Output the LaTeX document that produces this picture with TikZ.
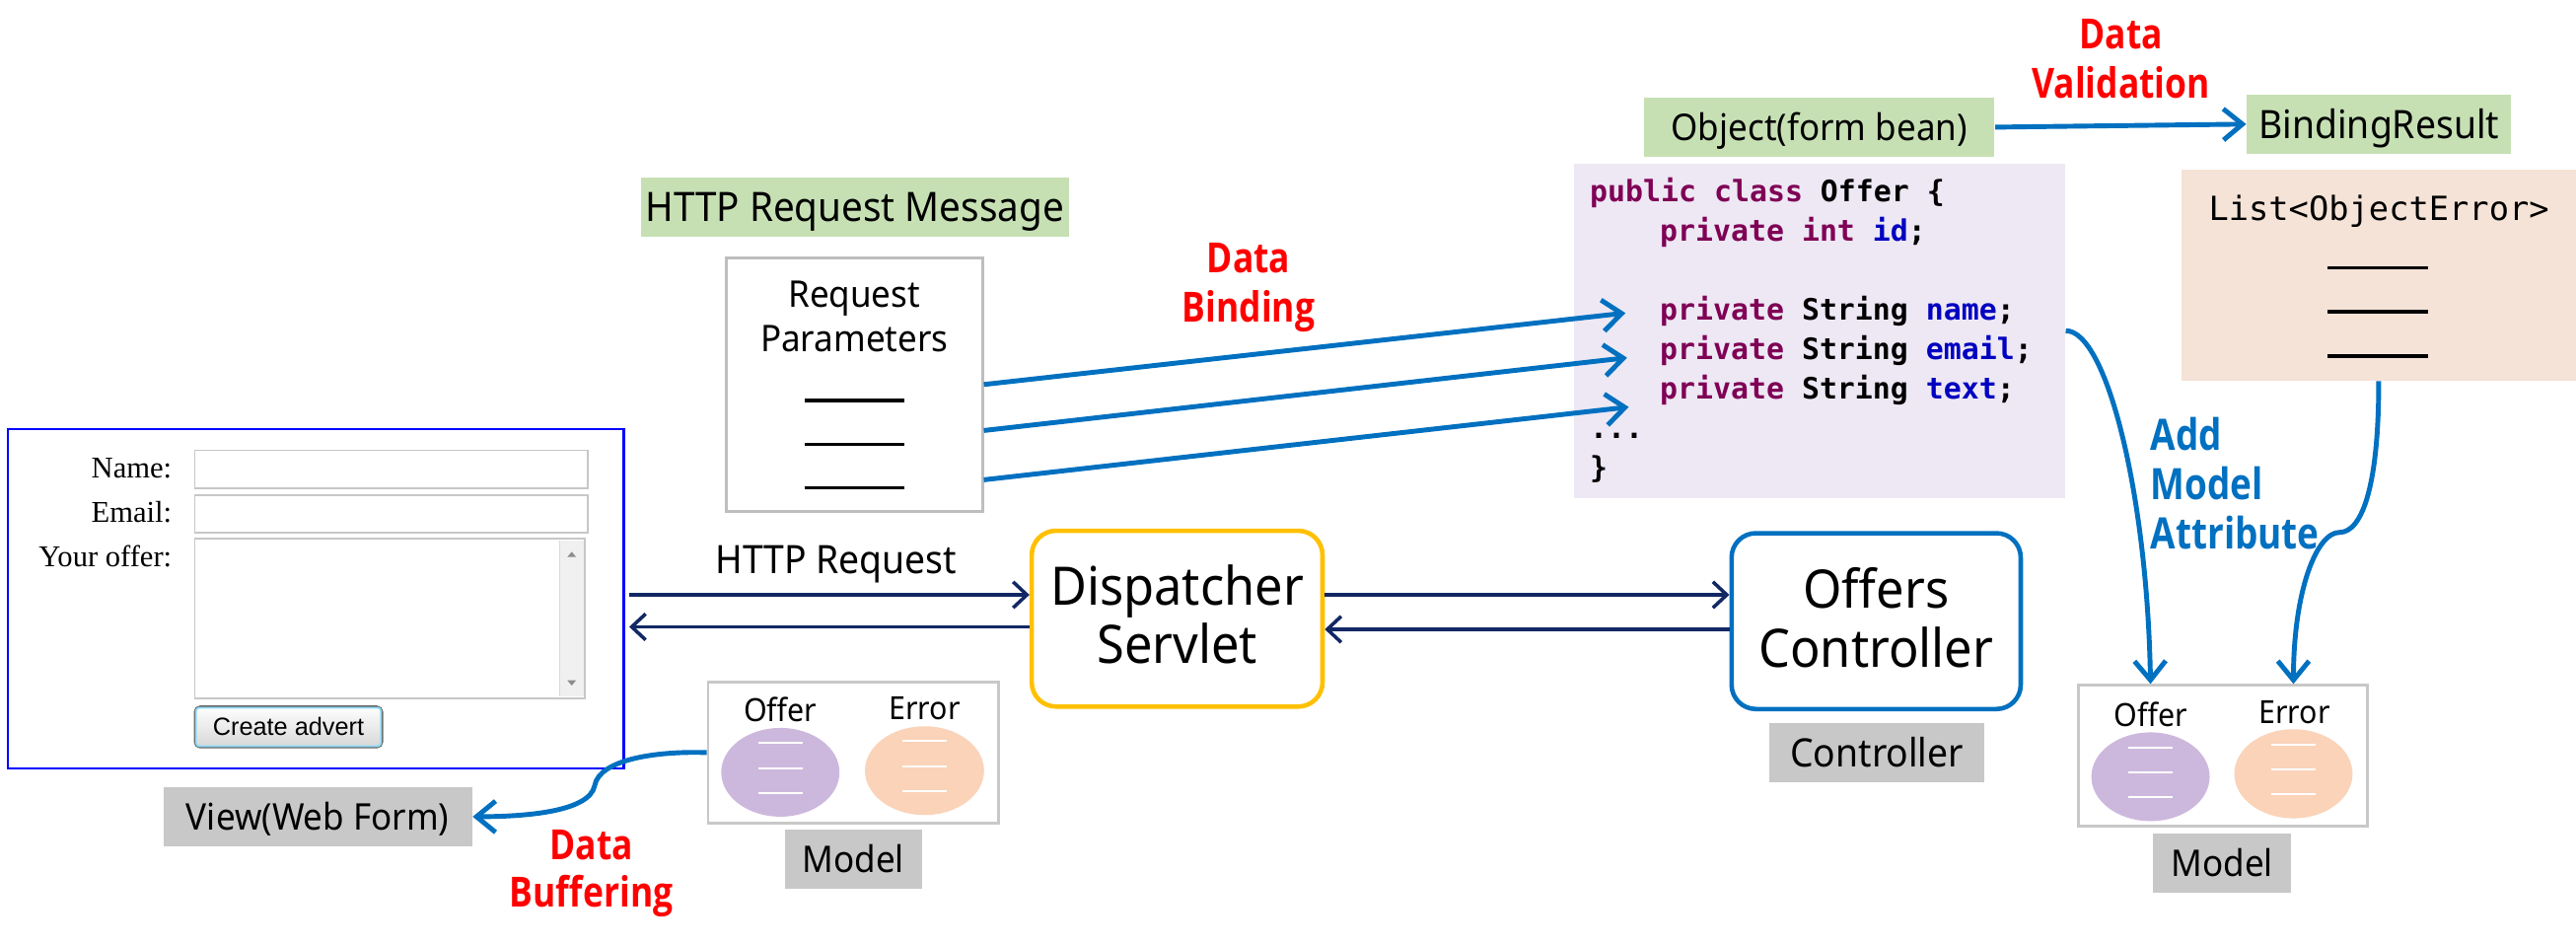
\documentclass[tikz,border=0pt]{standalone}
\usepackage{fontspec}
\setmainfont[FakeStretch=0.94]{Noto Sans}
\newfontfamily\boldsans[FakeStretch=0.84]{Open Sans}
\newfontfamily\codefont{DejaVu Sans Mono}
\newfontfamily\formfont{Liberation Serif}
\newfontfamily\btnfont{Liberation Sans}
\usetikzlibrary{arrows.meta,shapes.geometric,calc}
\newdimen\pu
\pu=0.016658cm
\newcommand\fsz[1]{\fontsize{#1}{#1}\selectfont}
\definecolor{lblgreen}{RGB}{198,224,180}
\definecolor{lblgray}{RGB}{200,200,200}
\definecolor{codebg}{RGB}{237,232,244}
\definecolor{peach}{RGB}{245,227,215}
\definecolor{offerfill}{RGB}{205,184,221}
\definecolor{errfill}{RGB}{250,211,185}
\definecolor{arrblue}{RGB}{0,112,192}
\definecolor{navy}{RGB}{18,40,100}
\definecolor{gold}{RGB}{255,192,0}
\definecolor{kwc}{RGB}{127,0,85}
\definecolor{idc}{RGB}{0,0,192}
\definecolor{boxgray}{RGB}{190,190,190}
\definecolor{formblue}{RGB}{0,0,255}
\definecolor{redlbl}{RGB}{255,0,0}
\newcommand\kwd[1]{\textcolor{kwc}{#1}}
\newcommand\idn[1]{\textcolor{idc}{#1}}
\tikzset{
  lbl/.style={inner sep=0pt, minimum height=36*\pu, text depth=0pt},
  txt/.style={inner sep=0pt, anchor=base},
  redtxt/.style={inner sep=0pt, anchor=base, text=redlbl, font=\boldsans\bfseries\fsz{12}},
  bluetxt/.style={inner sep=0pt, anchor=base west, text=arrblue, font=\boldsans\bfseries\fsz{12.5}},
  codeln/.style={inner sep=0pt, anchor=base west, font=\codefont\bfseries\fsz{8.5}},
  formtxt/.style={inner sep=0pt, anchor=base east, font=\formfont\fsz{8.7}},
  field/.style={draw=black!22, fill=white, line width=0.5pt, inner sep=0pt},
  navyarr/.style={draw=navy, line width=1pt, -{Straight Barb[length=4pt,width=7.5pt]}},
  bluearr/.style={draw=arrblue, line width=1.4pt, -{Straight Barb[length=5.5pt,width=9pt]}},
  modelbox/.style={draw=lblgray, line width=0.8pt, inner sep=0pt},
  ofl/.style={ellipse, fill=offerfill, inner sep=0pt},
  erl/.style={ellipse, fill=errfill, inner sep=0pt},
  wline/.style={draw=white, line width=0.6pt},
  uline/.style={draw=black, line width=0.9pt}
}
\begin{document}
\begin{tikzpicture}[x=0.016658cm,y=-0.016658cm]
\fill[white] (0,0) rectangle (1568,575);
\useasboundingbox (0,0) rectangle (1568,575);

% ---------- web form ----------
\node[draw=formblue, line width=0.6pt, minimum width=374.9*\pu, minimum height=206.6*\pu, inner sep=0pt] (form) at (192.25,364.3) {};
\node[field, minimum width=239.5*\pu, minimum height=23*\pu] (fName) at (238.25,285.5) {};
\node[field, minimum width=239.5*\pu, minimum height=22.5*\pu] (fEmail) at (238.25,312.75) {};
\node[field, minimum width=237.5*\pu, minimum height=97*\pu] (fOffer) at (237.25,376.5) {};
\fill[black!6] (340.5,329) rectangle (355.5,424);
\draw[black!15, line width=0.4pt] (340.5,329) -- (340.5,424);
\fill[black!45] (345.3,339) -- (350.7,339) -- (348,335.8) -- cycle;
\fill[black!45] (345.3,414) -- (350.7,414) -- (348,417.2) -- cycle;
\node[formtxt] (lName) at (105,291) {Name:};
\node[formtxt] (lEmail) at (105,318) {Email:};
\node[formtxt] (lOffer) at (105,345) {Your offer:};
\node[draw=black!60, line width=0.6pt, rounded corners=1.5pt, top color=white, bottom color=black!16,
      minimum width=114*\pu, minimum height=24.8*\pu, inner sep=0pt, font=\btnfont\fsz{7.2}] (bCreate) at (175.6,442.4) {Create advert};
\draw[cyan!45, line width=0.5pt, rounded corners=1pt] ([shift={(1.3,1.3)}]bCreate.north west) rectangle ([shift={(-1.3,-1.3)}]bCreate.south east);

% ---------- HTTP request message ----------
\node[lbl, fill=lblgreen, minimum width=260.6*\pu, font=\fsz{11.7}, text height=8.35pt] (hrm) at (520.3,126.25) {HTTP Request Message};
\node[draw=boxgray, line width=0.8pt, minimum width=156*\pu, minimum height=154.5*\pu, inner sep=0pt] (rp) at (520,234.25) {};
\node[txt, font=\fsz{10.6}] (rpT1) at (520,187) {Request};
\node[txt, font=\fsz{10.6}] (rpT2) at (520,214) {Parameters};
\foreach \yy in {243.7,270.5,297} \draw[uline] (490,\yy) -- (550.5,\yy);
\node[redtxt] (dbT1) at (760,166) {Data};
\node[redtxt] (dbT2) at (760,196) {Binding};

% ---------- object / code ----------
\node[lbl, fill=lblgreen, minimum width=213.2*\pu, font=\fsz{10.6}, text height=7.6pt] (obj) at (1107.4,77.4) {Object(form bean)};
\node[fill=codebg, minimum width=299*\pu, minimum height=203.4*\pu, inner sep=0pt] (code) at (1107.5,201.3) {};
\node[codeln] (c1) at (967.4,123) {\kwd{public class} Offer \{};
\node[codeln] (c2) at (1010,147) {\kwd{private int} \idn{id};};
\node[codeln] (c3) at (1010,195) {\kwd{private} String \idn{name};};
\node[codeln] (c4) at (1010,219) {\kwd{private} String \idn{email};};
\node[codeln] (c5) at (1010,243) {\kwd{private} String \idn{text};};
\node[codeln] (c6) at (967.4,267) {...};
\node[codeln] (c7) at (967.4,291) {\}};

% data binding arrows
\coordinate (db1) at (599,234);
\coordinate (db2) at (599,262);
\coordinate (db3) at (599,292);
\coordinate (de1) at (989.4,190.5);
\coordinate (de2) at (990.4,217.7);
\coordinate (de3) at (991.4,247.7);
\draw[bluearr] (rp.east |- db1) -- (de1);
\draw[bluearr] (rp.east |- db2) -- (de2);
\draw[bluearr] (rp.east |- db3) -- (de3);

% ---------- binding result ----------
\node[lbl, fill=lblgreen, minimum width=160.9*\pu, font=\fsz{11.3}, text height=8.07pt] (br) at (1448.15,75.55) {BindingResult};
\node[fill=peach, minimum width=240.2*\pu, minimum height=128*\pu, inner sep=0pt] (list) at (1447.9,167.5) {};
\node[txt, font=\codefont\fsz{9.6}] (listT) at (1448,134) {List<ObjectError>};
\foreach \yy in {163,189.7,216.7} \draw[uline] (1417,\yy) -- (1478,\yy);
\node[redtxt] (dvT1) at (1291,30) {Data};
\node[redtxt] (dvT2) at (1291,60) {Validation};
\draw[bluearr] (obj.east) -- (br.west);

% ---------- dispatcher / controller ----------
\node[draw=gold, line width=1.3pt, rounded corners=7pt, minimum width=177*\pu, minimum height=107*\pu, inner sep=0pt] (ds) at (716.5,376.5) {};
\node[txt, font=\fsz{15.3}] (dsT1) at (716.5,368) {Dispatcher};
\node[txt, font=\fsz{15.3}] (dsT2) at (716.5,404) {Servlet};
\node[draw=arrblue, line width=1.3pt, rounded corners=7pt, minimum width=176*\pu, minimum height=107*\pu, inner sep=0pt] (oc) at (1142,378) {};
\node[txt, font=\fsz{15.3}] (ocT1) at (1142,370) {Offers};
\node[txt, font=\fsz{15.3}] (ocT2) at (1142,406) {Controller};
\node[lbl, fill=lblgray, minimum width=131*\pu, font=\fsz{11.3}, text height=8.07pt] (cl) at (1142.5,458) {Controller};
\node[txt, font=\fsz{11.3}] (hrT) at (509,349) {HTTP Request};

\coordinate (hA) at (383,362);
\coordinate (hB) at (383,381.5);
\coordinate (r1) at (0,362);
\coordinate (r2) at (0,383);
\draw[navyarr] (hA) -- (hA -| ds.west);
\draw[navyarr] (hB -| ds.west) -- (hB);
\draw[navyarr] (ds.east |- r1) -- (oc.west |- r1);
\draw[navyarr] (oc.west |- r2) -- (ds.east |- r2);

% ---------- model 1 ----------
\node[modelbox, minimum width=177*\pu, minimum height=86*\pu] (m1) at (519.5,458) {};
\node[ofl, minimum width=72*\pu, minimum height=54*\pu] (of1) at (475,470) {};
\node[erl, minimum width=72.5*\pu, minimum height=54*\pu] (er1) at (562.75,469) {};
\foreach \yy in {452,467.7,482.6} \draw[wline] (461.5,\yy) -- (488.5,\yy);
\foreach \yy in {451,466.5,481.5} \draw[wline] (549.25,\yy) -- (576.25,\yy);
\node[txt, font=\fsz{9.2}] (of1T) at (475,439) {Offer};
\node[txt, font=\fsz{9.2}] (er1T) at (562.75,437.7) {Error};
\node[lbl, fill=lblgray, minimum width=83*\pu, font=\fsz{10.6}, text height=7.6pt] (ml1) at (519.5,523) {Model};

% ---------- view ----------
\node[lbl, fill=lblgray, minimum width=187.8*\pu, font=\fsz{10.6}, text height=7.6pt] (view) at (193.4,497) {View(Web Form)};
\node[redtxt] (dbuT1) at (360,523) {Data};
\node[redtxt] (dbuT2) at (360,552) {Buffering};
\draw[bluearr] (m1.west) .. controls (400,457) and (365,462) .. (362,478) .. controls (359,494) and (320,497) .. (view.east);

% ---------- model 2 ----------
\node[modelbox, minimum width=176*\pu, minimum height=85.9*\pu] (m2) at (1353,460) {};
\node[ofl, minimum width=72*\pu, minimum height=54*\pu] (of2) at (1309,472.7) {};
\node[erl, minimum width=72*\pu, minimum height=54.2*\pu] (er2) at (1396,470.9) {};
\foreach \yy in {454.9,469.8,484.8} \draw[wline] (1295.6,\yy) -- (1322.3,\yy);
\foreach \yy in {453.1,468.3,483.3} \draw[wline] (1382.6,\yy) -- (1409.4,\yy);
\node[txt, font=\fsz{9.2}] (of2T) at (1309,442) {Offer};
\node[txt, font=\fsz{9.2}] (er2T) at (1396.6,440.3) {Error};
\node[lbl, fill=lblgray, minimum width=84*\pu, minimum height=36.3*\pu, font=\fsz{10.6}, text height=7.6pt] (ml2) at (1352.65,525.35) {Model};

\node[bluetxt] (amaT1) at (1308.7,274.3) {Add};
\node[bluetxt] (amaT2) at (1308.7,304.2) {Model};
\node[bluetxt] (amaT3) at (1308.7,334.2) {Attribute};
\draw[bluearr] (code.east) .. controls (1282,201) and (1307,300) .. (m2.north -| of2);
\draw[bluearr] (list.south) .. controls (1448,295) and (1438,324) .. (1424,324) .. controls (1410,324) and (1396,360) .. (m2.north -| er2);
\end{tikzpicture}
\end{document}
